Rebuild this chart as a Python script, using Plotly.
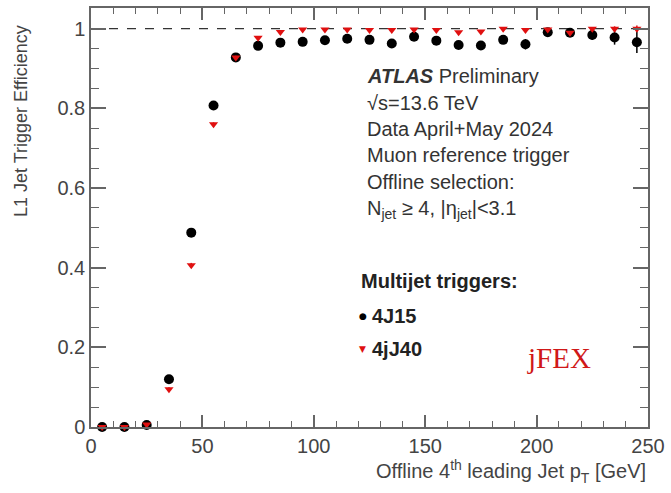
import plotly.graph_objects as go

pt_bins = [5, 15, 25, 35, 45, 55, 65, 75, 85, 95, 105, 115, 125, 135, 145,
           155, 165, 175, 185, 195, 205, 215, 225, 235, 245]
eff_4J15 = [0.0, 0.0, 0.005, 0.120, 0.488, 0.807, 0.928, 0.957, 0.965, 0.967,
            0.971, 0.975, 0.972, 0.963, 0.980, 0.970, 0.959, 0.958, 0.972,
            0.961, 0.991, 0.990, 0.984, 0.978, 0.966]
err_4J15 = [0.0, 0.0, 0.002, 0.005, 0.006, 0.005, 0.004, 0.004, 0.004, 0.004,
            0.004, 0.004, 0.005, 0.005, 0.005, 0.006, 0.006, 0.007, 0.008,
            0.013, 0.008, 0.008, 0.012, 0.018, 0.027]
eff_4jJ40 = [0.0, 0.0, 0.006, 0.095, 0.406, 0.760, 0.928, 0.977, 0.992, 0.998,
             0.998, 0.998, 0.997, 0.997, 0.998, 0.997, 0.991, 0.993, 1.0,
             0.997, 0.998, 0.990, 1.0, 1.0, 1.0]
err_4jJ40 = [0.0, 0.0, 0.002, 0.005, 0.006, 0.005, 0.004, 0.003, 0.002, 0.002,
             0.002, 0.002, 0.002, 0.002, 0.002, 0.002, 0.003, 0.003, 0.002,
             0.003, 0.003, 0.004, 0.004, 0.006, 0.008]

series_names = ["4J15", "4jJ40"]
series_colors = ["black", "#e01010"]

x_ticks = [0, 50, 100, 150, 200, 250]
y_ticks = [0, 0.2, 0.4, 0.6, 0.8, 1.0]
y_tick_text = ["0", "0.2", "0.4", "0.6", "0.8", "1"]

W, H = 671, 493
ML, MR, MT, MB = 91, 18, 6, 66
PW, PH = W - ML - MR, H - MT - MB

def px(xp):
    return (xp - ML) / PW

def py(yp):
    return (H - MB - yp) / PH

fig = go.Figure()
fig.add_trace(go.Scatter(
    x=pt_bins, y=eff_4J15, mode="markers", name=series_names[0],
    marker=dict(symbol="circle", size=10, color=series_colors[0]),
    error_y=dict(type="data", array=err_4J15, color=series_colors[0], thickness=1.5, width=0),
    cliponaxis=False, showlegend=False,
))
fig.add_trace(go.Scatter(
    x=pt_bins, y=eff_4jJ40, mode="markers", name=series_names[1],
    marker=dict(symbol="triangle-down", size=8, color=series_colors[1]),
    error_y=dict(type="data", array=err_4jJ40, color=series_colors[1], thickness=1.5, width=0),
    cliponaxis=False, showlegend=False,
))

fig.add_shape(type="line", xref="x", yref="y", x0=0, x1=250, y0=1, y1=1,
              line=dict(color="black", width=1, dash="dash"), layer="below")

axis_common = dict(
    showline=True, linecolor="#666666", linewidth=1.5, mirror="allticks",
    ticks="inside", tickcolor="#666666", tickwidth=1.5,
    showgrid=False, zeroline=False,
    tickfont=dict(family="Liberation Sans, Arial", size=20, color="#444444"),
)
fig.update_xaxes(range=[0, 250], tickvals=x_ticks, ticklen=12,
                 minor=dict(ticks="inside", dtick=10, ticklen=6,
                            tickcolor="#666666", tickwidth=1.2),
                 **axis_common)
fig.update_yaxes(range=[0, 1.052], tickvals=y_ticks, ticktext=y_tick_text,
                 ticklen=15,
                 minor=dict(ticks="inside", dtick=0.05, ticklen=8,
                            tickcolor="#666666", tickwidth=1.2),
                 **axis_common)

txt_font = dict(family="Liberation Sans, Arial", size=20, color="#333333")
lines = [
    ("<b><i>ATLAS</i></b> Preliminary", 74),
    ("√s=13.6 TeV", 101),
    ("Data April+May 2024", 128),
    ("Muon reference trigger", 154),
    ("Offline selection:", 181),
    ("N<sub>jet</sub> ≥ 4, |η<sub>jet</sub>|<3.1", 208),
]
for t, yp in lines:
    fig.add_annotation(text=t, xref="paper", yref="paper", x=px(367), y=py(yp),
                       xanchor="left", yanchor="middle", showarrow=False,
                       font=txt_font)

# legend block
leg_font = dict(family="Liberation Sans, Arial", size=20, color="#222222")
fig.add_annotation(text="<b>Multijet triggers:</b>", xref="paper", yref="paper",
                   x=px(361), y=py(280), xanchor="left", yanchor="middle",
                   showarrow=False, font=leg_font)
legend_glyphs = ["●", "▼"]
legend_rows = [315, 349]
for name, col, glyph, yp in zip(series_names, series_colors, legend_glyphs, legend_rows):
    fig.add_annotation(text=glyph, xref="paper", yref="paper",
                       x=px(365), y=py(yp), xanchor="center", yanchor="middle",
                       showarrow=False,
                       font=dict(family="DejaVu Sans", size=9, color=col))
    fig.add_annotation(text="<b>%s</b>" % name, xref="paper", yref="paper",
                       x=px(372), y=py(yp), xanchor="left", yanchor="middle",
                       showarrow=False, font=leg_font)

fig.add_annotation(text="jFEX", xref="paper", yref="paper", x=px(563), y=py(358),
                   xanchor="center", yanchor="middle", showarrow=False,
                   font=dict(family="Liberation Serif, Times New Roman", size=29,
                             color="#d01818"))

fig.add_annotation(text="L1 Jet Trigger Efficiency", xref="paper", yref="paper",
                   x=px(21), y=py(120), textangle=-90, xanchor="center",
                   yanchor="middle", showarrow=False,
                   font=dict(family="Liberation Sans, Arial", size=18, color="#444444"))
fig.add_annotation(text="Offline 4<sup>th</sup> leading Jet p<sub>T</sub> [GeV]",
                   xref="paper", yref="paper", x=px(653), y=py(472),
                   xanchor="right", yanchor="middle", showarrow=False,
                   font=dict(family="Liberation Sans, Arial", size=20, color="#444444"))

fig.update_layout(
    width=W, height=H,
    margin=dict(l=ML, r=MR, t=MT, b=MB),
    paper_bgcolor="white", plot_bgcolor="white",
    showlegend=False,
)

fig.write_html("out.html")
